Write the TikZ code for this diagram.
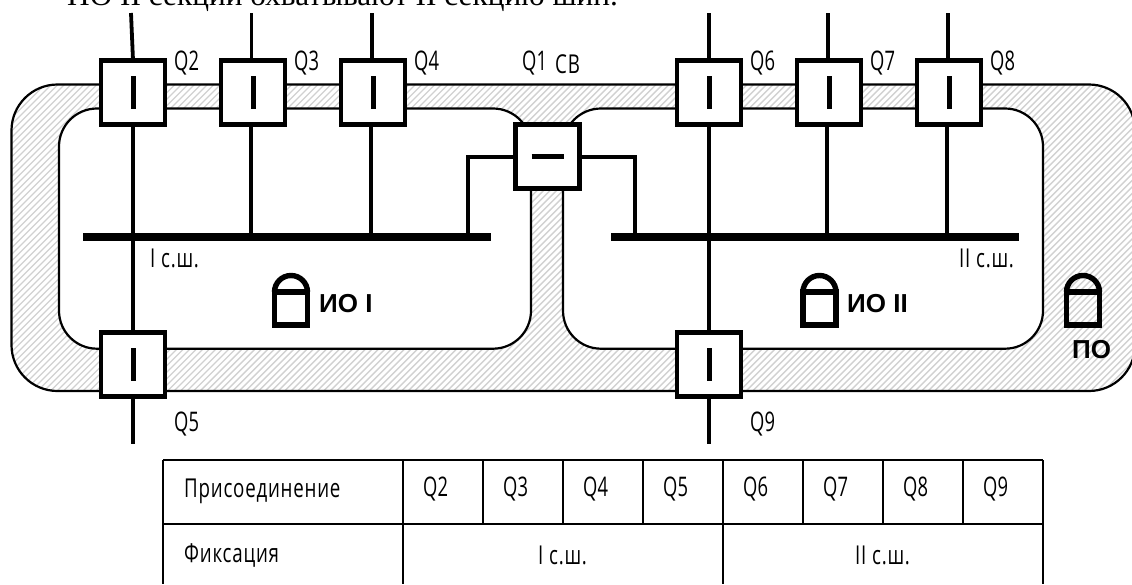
\documentclass[tikz,border=0pt]{standalone}
\usepackage{fontspec}
\usetikzlibrary{calc}
\setmainfont{Liberation Serif}
\newfontfamily\gost[FakeStretch=0.68]{Open Sans}
\newfontfamily\gostsp[FakeStretch=0.72,LetterSpace=3]{Open Sans}
\newfontfamily\boldsans{Liberation Sans}
\tikzset{
  brk/.style={draw=black,fill=white,line width=4.4pt,minimum width=64pt,minimum height=64pt,inner sep=0pt,outer sep=0pt},
  feeder/.style={line width=3.8pt,draw=black},
  tie/.style={line width=4pt,draw=black,line join=miter},
  bar/.style={line width=5pt,draw=black},
  busbar/.style={fill=black,minimum width=408pt,minimum height=8pt,inner sep=0pt,outer sep=0pt},
  zone/.style={line width=2.2pt,draw=black,rounded corners=38pt,fill=white},
  hatchline/.style={line width=1.4pt,draw=black!18},
  lbl/.style={font=\gost\fontsize{27}{27}\selectfont,inner sep=0pt,anchor=west},
  small/.style={font=\gostsp\fontsize{26}{26}\selectfont,inner sep=0pt,anchor=west},
  zonetxt/.style={font=\boldsans\bfseries\fontsize{26}{26}\selectfont,inner sep=0pt,anchor=west},
  lockline/.style={line width=5.4pt,draw=black},
  grid/.style={line width=2.4pt,draw=black}
}
\begin{document}
\begin{tikzpicture}[x=1pt,y=-1pt]
\useasboundingbox (0,0) rectangle (1132,584);
\clip (0,0) rectangle (1132,584);
\fill[white] (0,0) rectangle (1132,584);
% running text
\node[anchor=base west,inner sep=0pt,font=\fontsize{31.3}{31.3}\selectfont] (run) at (67,5) {ПО II секции охватывают II секцию шин.};
% hatched band
\begin{scope}
\clip[rounded corners=46pt] (11.5,84.5) rectangle (1135,391);
\foreach \i in {-20,-13.5,...,1560}{\draw[hatchline] (\i,0)--({\i-420},420);}
\end{scope}
\draw[line width=2.2pt,rounded corners=46pt] (11.5,84.5) rectangle (1135,391);
\draw[zone] (59,108.5) rectangle (531,348.7);
\draw[zone] (563,108.5) rectangle (1043,348.7);
% bus bars
\node[busbar] (bus1) at (287,237) {};
\node[busbar] (bus2) at (815,237) {};
% free ends
\coordinate (t2) at (131,13); \coordinate (t3) at (251.5,13); \coordinate (t4) at (372,13);
\coordinate (t6) at (709,13); \coordinate (t7) at (828,13); \coordinate (t8) at (948,13);
\coordinate (b5) at (133,444); \coordinate (b9) at (709,444);
\coordinate (d3) at (251,126); \coordinate (d4) at (371,126);
\coordinate (d7) at (827,126); \coordinate (d8) at (947,126);
\coordinate (tl) at (467.5,156.5); \coordinate (tr) at (634.5,156.5);
% connectors
\draw[feeder] (t2) -- (133,60);
\draw[feeder] (t3) -- (t3 |- d3);
\draw[feeder] (t4) -- (t4 |- d4);
\draw[feeder] (t6) -- (709,60);
\draw[feeder] (t7) -- (t7 |- d7);
\draw[feeder] (t8) -- (t8 |- d8);
\draw[feeder] (133,92) -- (b5);
\draw[feeder] (709,92) -- (b9);
\draw[feeder] (d3) -- (d3 |- bus1);
\draw[feeder] (d4) -- (d4 |- bus1);
\draw[feeder] (d7) -- (d7 |- bus2);
\draw[feeder] (d8) -- (d8 |- bus2);
\draw[tie] (547,156.5) -- (tl) -- (tl |- bus1);
\draw[tie] (547,156.5) -- (tr) -- (tr |- bus2);
% breakers
\node[brk] (q2) at (133,92.5) {};
\node[brk] (q3) at (253,92.5) {};
\node[brk] (q4) at (373,92.5) {};
\node[brk] (q6) at (709,92.5) {};
\node[brk] (q7) at (829,92.5) {};
\node[brk] (q8) at (949,92.5) {};
\node[brk] (q5) at (133,364.5) {};
\node[brk] (q9) at (709,364.5) {};
\node[brk] (q1) at (547.5,156.5) {};
% contact marks
\foreach \n in {q2,q3,q4,q5,q6,q7,q8,q9}{\draw[bar] ($(\n)+(0,-16.5)$) -- ($(\n)+(0,16)$);}
\draw[bar] ($(q1)+(-16,0)$) -- ($(q1)+(16,0)$);
% labels
\node[lbl] (lq2) at (174,63) {Q2};
\node[lbl] (lq3) at (294,63) {Q3};
\node[lbl] (lq4) at (414,63) {Q4};
\node[lbl] (lq1) at (522,63) {Q1};
\node[small] (lsv) at (555,64) {СВ};
\node[lbl] (lq6) at (750,63) {Q6};
\node[lbl] (lq7) at (870,63) {Q7};
\node[lbl] (lq8) at (990,63) {Q8};
\node[lbl] (lq5) at (174,424) {Q5};
\node[lbl] (lq9) at (750,424) {Q9};
\node[small] (ls1) at (150,258) {I с.ш.};
\node[small] (ls2) at (959,258) {II с.ш.};
% locks
\foreach \x/\y in {291/292,819.5/292,1083/292}{
  \draw[lockline] (\x-16.5,\y) arc[start angle=180,end angle=0,radius=16.5pt];
  \draw[lockline] (\x-16.5,\y) rectangle (\x+16.5,\y+33);
}
\node[zonetxt] (zo1) at (319,304) {ИО I};
\node[zonetxt] (zo2) at (847,304) {ИО II};
\node[zonetxt] (zo3) at (1072,350) {ПО};
% table
\draw[grid] (163,460) -- (1043,460);
\draw[grid] (163,524) -- (1043,524);
\foreach \x in {163,403,723,1043}{\draw[grid] (\x,460) -- (\x,584);}
\foreach \x in {483,563,643,803,883,963}{\draw[grid] (\x,460) -- (\x,524);}
\node[small] (h0) at (184,491) {Присоединение};
\foreach \n/\x in {2/423,3/503,4/583,5/663,6/743,7/823,8/903,9/983}{\node[lbl] (h\n) at (\x,489) {Q\n};}
\node[small] (f0) at (184,555) {Фиксация};
\node[small] (f1) at (538,555) {I с.ш.};
\node[small] (f2) at (855,555) {II с.ш.};
\end{tikzpicture}
\end{document}
